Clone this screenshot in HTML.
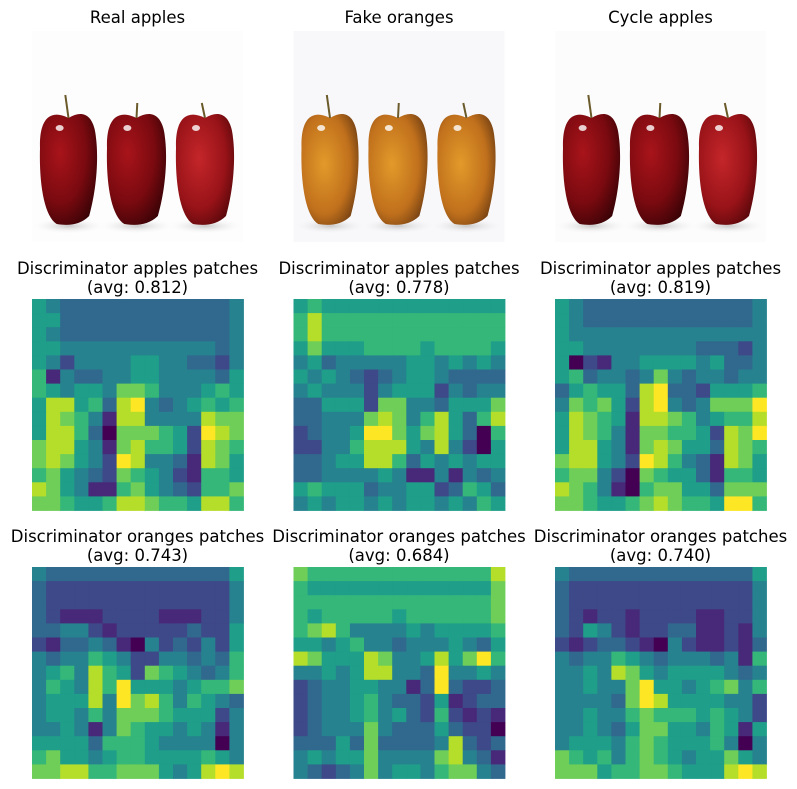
<!DOCTYPE html>
<html><head><meta charset="utf-8">
<style>
html,body{margin:0;padding:0;background:#fff;}
svg{display:block;}
text{font-family:"DejaVu Sans","Liberation Sans",sans-serif;font-size:16.5px;fill:#000;}
</style></head>
<body>
<svg id="fig" width="797" height="789" viewBox="0 0 797 789">
<defs>
  <radialGradient id="redApple" cx="0.35" cy="0.35" r="0.75">
    <stop offset="0" stop-color="#a8141a"/><stop offset="0.6" stop-color="#7a0a10"/><stop offset="1" stop-color="#3a0306"/>
  </radialGradient>
  <radialGradient id="redApple3" cx="0.4" cy="0.4" r="0.75">
    <stop offset="0" stop-color="#c4262a"/><stop offset="0.6" stop-color="#981318"/><stop offset="1" stop-color="#4a0508"/>
  </radialGradient>
  <radialGradient id="orangeApple" cx="0.4" cy="0.45" r="0.75">
    <stop offset="0" stop-color="#e39a2a"/><stop offset="0.6" stop-color="#c0701c"/><stop offset="1" stop-color="#5a3010"/>
  </radialGradient>
  <radialGradient id="shadow" cx="0.5" cy="0.5" r="0.5">
    <stop offset="0" stop-color="#bbb" stop-opacity="0.8"/><stop offset="1" stop-color="#fff" stop-opacity="0"/>
  </radialGradient>
</defs>
<g><text x="137.5" y="23" text-anchor="middle">Real apples</text></g>
<g><text x="399" y="23" text-anchor="middle">Fake oranges</text></g>
<g><text x="660.5" y="23" text-anchor="middle">Cycle apples</text></g>
<g id="photos"></g>
<g id="heatmaps"></g>
<g id="titles"></g>
</svg>
<script>
const NS="http://www.w3.org/2000/svg";
const colX=[32,293.5,555];
const viridis=["#440154","#482878","#3e4989","#31688e","#26828e","#1f9e89","#35b779","#6ece58","#b5de2b","#fde725"];

// photo panels
const photoFills=["url(#redApple)","url(#orangeApple)","url(#redApple)"];
const photoBg=["#fdfdfd","#f8f8fb","#fcfcfc"];
const appleXs=[[7,66],[74,135],[143,203]];
const photos=document.getElementById('photos');
for(let c=0;c<3;c++){
  const g=document.createElementNS(NS,'g');
  
  
  const bg=document.createElementNS(NS,'rect');
  bg.setAttribute('x',colX[c]);bg.setAttribute('y',31);bg.setAttribute('width',211);bg.setAttribute('height',211);
  bg.setAttribute('fill',photoBg[c]);g.appendChild(bg);
  appleXs.forEach((ax,i)=>{
    const x0=colX[c]+ax[0],x1=colX[c]+ax[1],w=x1-x0,y0=31+82,y1=31+193;
    const sh=document.createElementNS(NS,'ellipse');
    sh.setAttribute('cx',x0+w/2);sh.setAttribute('cy',y1+2);sh.setAttribute('rx',w*0.65);sh.setAttribute('ry',8);
    sh.setAttribute('fill','url(#shadow)');g.appendChild(sh);
    const p=document.createElementNS(NS,'path');
    const d=`M${x0+w*0.5},${y0+5} C${x0+w*0.2},${y0-4} ${x0},${y0+5} ${x0+1},${y0+35} C${x0},${y0+70} ${x0+5},${y1-8} ${x0+w*0.3},${y1} C${x0+w*0.5},${y1+2} ${x0+w*0.7},${y1+1} ${x0+w*0.85},${y1-8} C${x1},${y1-40} ${x1},${y0+40} ${x1-2},${y0+25} C${x1-4},${y0+2} ${x0+w*0.75},${y0-4} ${x0+w*0.5},${y0+5} Z`;
    p.setAttribute('d',d);
    p.setAttribute('fill',(c!==1&&i===2)?'url(#redApple3)':photoFills[c]);
    g.appendChild(p);
    const st=document.createElementNS(NS,'line');
    st.setAttribute('x1',x0+w*0.5);st.setAttribute('y1',y0+5);st.setAttribute('x2',x0+w*0.48+(i===1?2:-2));st.setAttribute('y2',y0-(i===0?18:10));
    st.setAttribute('stroke','#6b5a2a');st.setAttribute('stroke-width',2);g.appendChild(st);
    const hl=document.createElementNS(NS,'ellipse');
    hl.setAttribute('cx',x0+w*0.35);hl.setAttribute('cy',y0+15);hl.setAttribute('rx',4);hl.setAttribute('ry',3);
    hl.setAttribute('fill','#fff');hl.setAttribute('opacity','0.8');g.appendChild(hl);
  });
  photos.appendChild(g);
}

// heatmap data (15x15 coarse levels 0-9 on viridis)
const hmApplesReal=["543333333333334","553333333333334","543333333333334","554444444444434","542444455443324","614334455444435","654554776444565","588563894345656","587641884444877","588630777652987","788541786652876","787542984431875","675432765421665","875411675432667","776556887665886"];
const hmApplesFake=["565555555555555","686666666666666","686666666666666","575556666566665","453444445545454","545432345543333","454442455524344","335552774435557","334447874685368","234459975785306","224468885484205","334558863545455","334444541141434","565553445523653","454554545545465"];
const hmApplesCycle=["543333333333334","543333333333334","544444444444444","554444444433324","502144555545334","563443474344344","356553893325556","476752894347779","587651887645668","587641776652879","588541787553876","788542986431875","677420765531665","876410677553777","776556787665996"];
const hmOrangesReal=["433333333333335","322222222222224","322222222222224","321112222111224","334421222223225","213343104232425","434465422443436","456486527654346","465486955545667","455584978646543","455464777655524","445414765545414","555536665444404","675545665555654","778866777545898"];
const hmOrangesFake=["766666666666668","655555555555557","666666666666667","656666656666667","678644445455556","554564434445435","875558744585796","445458844394454","234455441393223","234456433251233","234456453262121","234447433353220","333537333348323","454557444478431","432347455467743"];
const hmOrangesCycle=["433333333333335","322222222222224","322222222222224","321221222211224","325421223311214","212332104211213","434465434443416","445487545555434","445447955456746","444437985555442","445446766656542","445435775546515","455546765556404","765646765455754","777566776555898"];
const hmTitles=["Discriminator apples patches","Discriminator oranges patches"];
const hmAvgs=[["0.812","0.778","0.819"],["0.743","0.684","0.740"]];

const allHm=[[hmApplesReal,hmApplesFake,hmApplesCycle],[hmOrangesReal,hmOrangesFake,hmOrangesCycle]];
const rowY=[299,567];
const size=211.5;
const hmG=document.getElementById('heatmaps');
const titles=document.getElementById('titles');
for(let r=0;r<2;r++){
  for(let c=0;c<3;c++){
    const data=allHm[r][c];
    const g=document.createElementNS(NS,'g');
    
    
    const n=data.length, cs=size/n;
    data.forEach((row,i)=>{
      for(let j=0;j<row.length;j++){
        const v=+row[j];
        const rc=document.createElementNS(NS,'rect');
        
        
        rc.setAttribute('x',(colX[c]+j*cs).toFixed(2));
        rc.setAttribute('y',(rowY[r]+i*cs).toFixed(2));
        rc.setAttribute('width',(cs+0.4).toFixed(2));
        rc.setAttribute('height',(cs+0.4).toFixed(2));
        rc.setAttribute('fill',viridis[v]);
        g.appendChild(rc);
      }
    });
    hmG.appendChild(g);
    const t=document.createElementNS(NS,'text');
    
    
    t.setAttribute('x',colX[c]+105.5);t.setAttribute('y',rowY[r]-25);
    t.setAttribute('text-anchor','middle');t.textContent=hmTitles[r];
    titles.appendChild(t);
    const t2=document.createElementNS(NS,'text');
    
    
    t2.setAttribute('x',colX[c]+105.5);t2.setAttribute('y',rowY[r]-6);
    t2.setAttribute('text-anchor','middle');t2.textContent='(avg: '+hmAvgs[r][c]+')';
    titles.appendChild(t2);
  }
}
</script>
</body></html>
